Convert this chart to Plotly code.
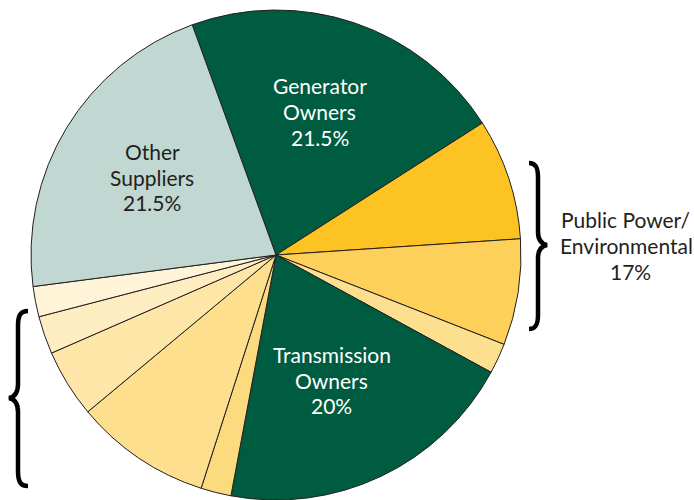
import plotly.graph_objects as go

# Slice data, clockwise starting from the Generator Owners slice
slice_names = ["Generator Owners", "Public Power 1", "Public Power 2", "Public Power 3",
               "Transmission Owners", "Group A 1", "Group A 2", "Group A 3", "Group A 4",
               "Group A 5", "Other Suppliers"]
slice_values = [21.5, 8, 7, 2, 20, 2, 9, 4.5, 2.5, 2, 21.5]
slice_colors = ["#005C40", "#FDC323", "#FDD05A", "#FDDF90", "#005C40", "#FCDA7E",
                "#FDDF8E", "#FEE6A9", "#FEEDC0", "#FFF4D8", "#C1D7D2"]

# Label text lines (center x px, center y px of each line)
label_lines = [
    ("Generator", 319.5, 86, "white"), ("Owners", 319.5, 111.5, "white"), ("21.5%", 319.5, 137, "white"),
    ("Other", 152, 151, "#231F20"), ("Suppliers", 152, 177, "#231F20"), ("21.5%", 152, 202, "#231F20"),
    ("Transmission", 331.5, 354, "white"), ("Owners", 331.5, 380, "white"), ("20%", 331.5, 405.5, "white"),
    ("Public Power/", 625, 220, "#231F20"), ("Environmental", 626, 245.5, "#231F20"), ("17%", 630, 271, "#231F20"),
]

W, H = 694, 500
CX, CY, R = 276, 255, 245


def px(x, y):
    return x / W, 1 - y / H


def path_from(points_cmds):
    out = []
    for cmd, pts in points_cmds:
        coords = []
        for (x, y) in pts:
            X, Y = px(x, y)
            coords.append(f"{X:.5f},{Y:.5f}")
        out.append(cmd + " " + " ".join(coords))
    return " ".join(out)


left_brace = path_from([
    ("M", [(28, 311)]),
    ("C", [(20, 311), (18, 316), (18, 326)]),
    ("L", [(18, 384)]),
    ("C", [(18, 393), (14, 397), (9, 398)]),
    ("C", [(14, 399), (18, 403), (18, 412)]),
    ("L", [(18, 471)]),
    ("C", [(18, 481), (20, 486), (28, 486)]),
])
right_brace = path_from([
    ("M", [(529, 163)]),
    ("C", [(536, 163), (538, 168), (538, 177)]),
    ("L", [(538, 232)]),
    ("C", [(538, 240), (542, 244), (547, 245)]),
    ("C", [(542, 246), (538, 250), (538, 258)]),
    ("L", [(538, 315)]),
    ("C", [(538, 324), (536, 329), (529, 329)]),
])

fig = go.Figure(go.Pie(
    labels=slice_names,
    values=slice_values,
    sort=False,
    direction="clockwise",
    rotation=-20,
    marker=dict(colors=slice_colors, line=dict(color="#231F20", width=1)),
    textinfo="none",
    hoverinfo="label+percent",
    showlegend=False,
    domain=dict(x=[(CX - R) / W, (CX + R) / W], y=[(H - CY - R) / H, (H - CY + R) / H]),
))

annotations = []
for text, x, y, color in label_lines:
    X, Y = px(x, y)
    annotations.append(dict(
        text=text, x=X, y=Y, xref="paper", yref="paper",
        xanchor="center", yanchor="middle", showarrow=False,
        font=dict(family="Lato", size=21, color=color),
    ))

fig.update_layout(
    width=W, height=H,
    margin=dict(l=0, r=0, t=0, b=0),
    paper_bgcolor="white",
    plot_bgcolor="white",
    annotations=annotations,
    shapes=[
        dict(type="path", path=left_brace, xref="paper", yref="paper",
             line=dict(color="black", width=4.5)),
        dict(type="path", path=right_brace, xref="paper", yref="paper",
             line=dict(color="black", width=4.5)),
    ],
)

fig.write_html("out.html")
